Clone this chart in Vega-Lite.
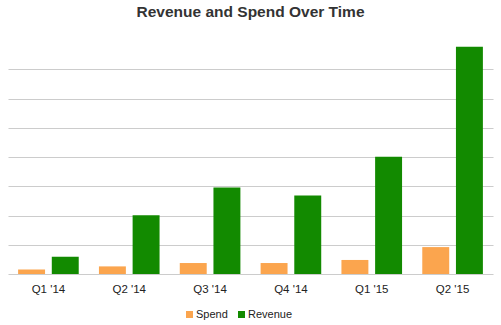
{
  "$schema": "https://vega.github.io/schema/vega-lite/v6.json",
  "autosize": "none",
  "width": 485,
  "height": 234,
  "padding": {"left": 8, "top": 40, "right": 8, "bottom": 51},
  "background": "white",
  "title": {"text": "Revenue and Spend Over Time", "font": "Liberation Sans", "fontSize": 15.5, "fontWeight": "bold", "color": "#333333", "baseline": "alphabetic", "offset": 8, "anchor": "middle"},
  "data": {"values": [
    {"quarter": "Q1 '14", "series": "Spend", "value": 150},
    {"quarter": "Q1 '14", "series": "Revenue", "value": 590},
    {"quarter": "Q2 '14", "series": "Spend", "value": 260},
    {"quarter": "Q2 '14", "series": "Revenue", "value": 2010},
    {"quarter": "Q3 '14", "series": "Spend", "value": 375},
    {"quarter": "Q3 '14", "series": "Revenue", "value": 2960},
    {"quarter": "Q4 '14", "series": "Spend", "value": 375},
    {"quarter": "Q4 '14", "series": "Revenue", "value": 2680},
    {"quarter": "Q1 '15", "series": "Spend", "value": 480},
    {"quarter": "Q1 '15", "series": "Revenue", "value": 4010},
    {"quarter": "Q2 '15", "series": "Spend", "value": 920},
    {"quarter": "Q2 '15", "series": "Revenue", "value": 7770}
  ]},
  "mark": {"type": "bar"},
  "encoding": {
    "x": {"field": "quarter", "type": "nominal", "sort": null,
      "scale": {"paddingInner": 0.25, "paddingOuter": 0.125},
      "axis": {"title": null, "labelAngle": 0, "ticks": false, "domain": false, "grid": false, "labelPadding": 9, "labelFont": "Liberation Sans", "labelFontSize": 11.5, "labelColor": "#222222"}},
    "xOffset": {"field": "series", "type": "nominal", "sort": ["Spend", "Revenue"],
      "scale": {"paddingInner": 0.2, "paddingOuter": 0}},
    "y": {"field": "value", "type": "quantitative",
      "scale": {"domain": [0, 8000], "nice": false},
      "axis": {"title": null, "labels": false, "ticks": false, "domain": false, "grid": true, "gridColor": "#cccccc", "gridWidth": 1.2, "values": [0, 1000, 2000, 3000, 4000, 5000, 6000, 7000]}},
    "color": {"field": "series", "type": "nominal",
      "scale": {"domain": ["Spend", "Revenue"], "range": ["#fba54e", "#128a00"]},
      "legend": {"title": null, "orient": "none", "direction": "horizontal", "gridAlign": "none", "legendX": 176, "legendY": 269, "padding": 0, "symbolType": "square", "symbolSize": 49, "symbolStrokeWidth": 0, "symbolOpacity": 1, "labelFont": "Liberation Sans", "labelFontSize": 11, "labelColor": "#222222", "labelOffset": 1, "columnPadding": 8}}
  },
  "config": {"view": {"stroke": null}}
}
